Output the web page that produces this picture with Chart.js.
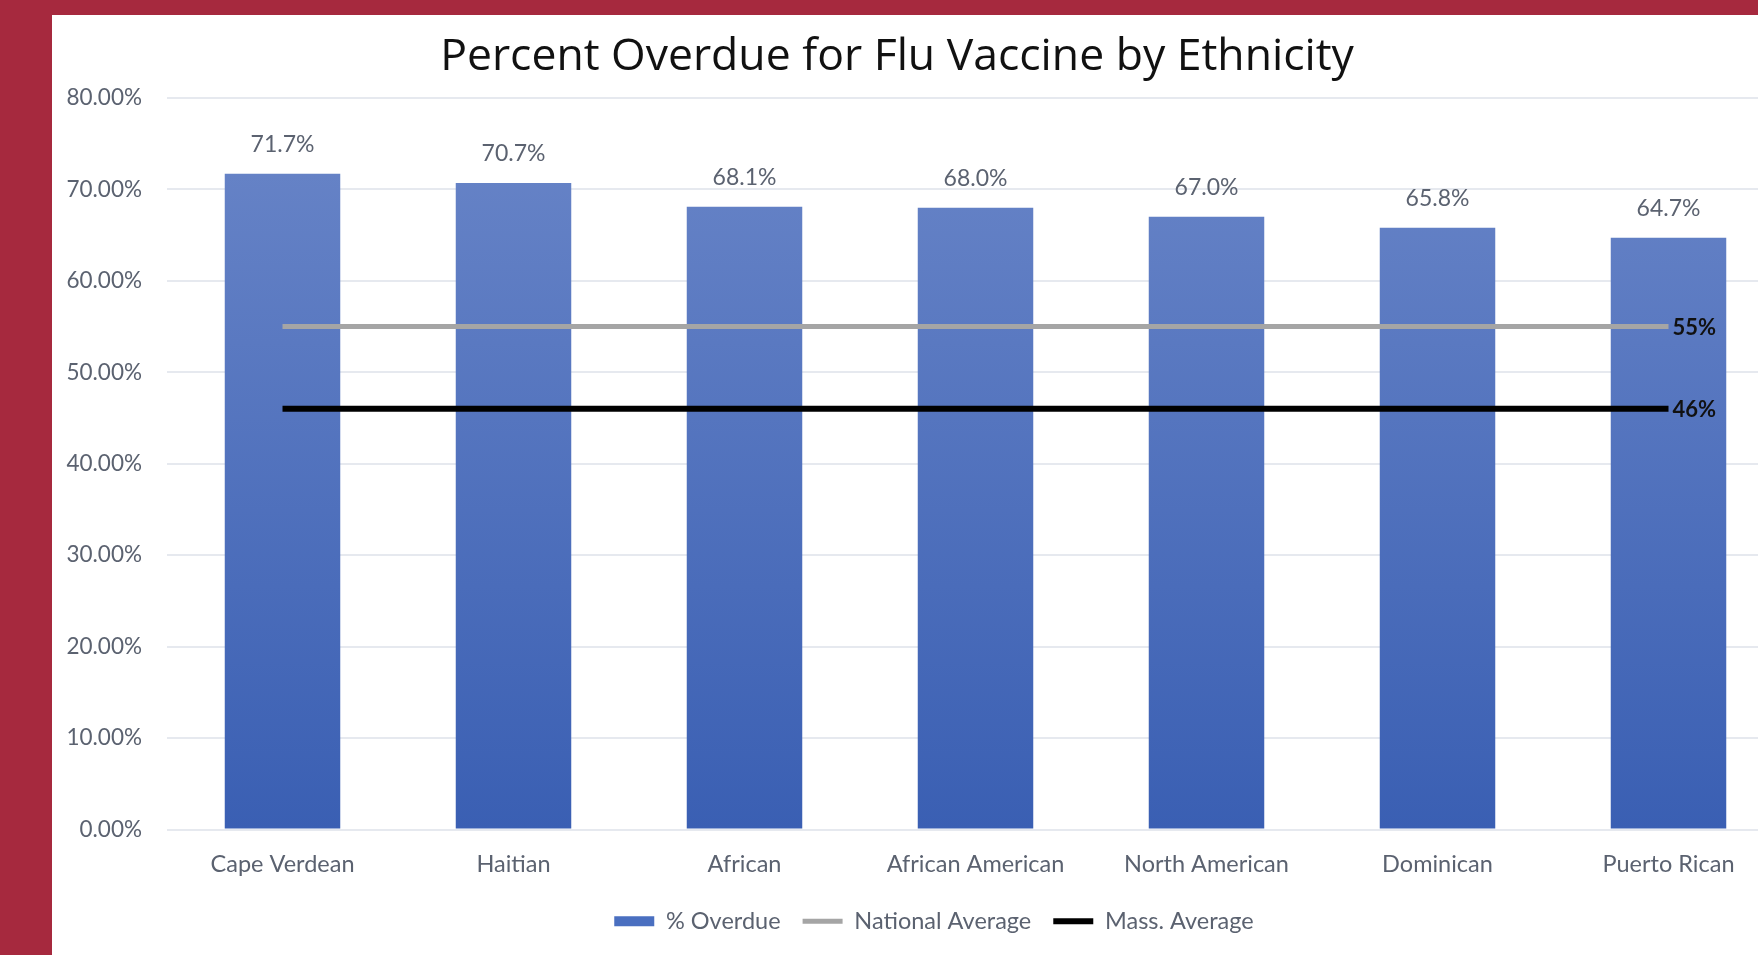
<!DOCTYPE html>
<html>
<head>
<meta charset="utf-8">
<script src="https://cdn.jsdelivr.net/npm/chart.js@4/dist/chart.umd.min.js"></script>
<style>
  html, body { margin: 0; padding: 0; overflow: hidden; width: 1758px; height: 955px; background: #a6293e; }
  #panel { position: absolute; left: 52px; top: 15px; right: 0; bottom: 0; background: #ffffff; }
  #wrap { position: absolute; left: 10px; top: 0; width: 1774px; height: 955px; }
</style>
</head>
<body>
<div id="panel"></div>
<div id="wrap"><canvas id="fluChart"></canvas></div>
<script>
// data
var ethnicities = ['Cape Verdean', 'Haitian', 'African', 'African American', 'North American', 'Dominican', 'Puerto Rican'];
var pctOverdue = [71.7, 70.7, 68.1, 68.0, 67.0, 65.8, 64.7];
var nationalAvg = [55, 55, 55, 55, 55, 55, 55];
var massAvg = [46, 46, 46, 46, 46, 46, 46];
var yTicks = [0, 10, 20, 30, 40, 50, 60, 70, 80];

var grayText = '#5b6270';

// bar fill: lighter blue at top, darker at the bottom
function barGradient(context) {
    var chart = context.chart;
    var area = chart.chartArea;
    if (!area) return '#4c6fc0';
    var g = chart.ctx.createLinearGradient(0, area.top, 0, area.bottom);
    g.addColorStop(0, '#6a86c8');
    g.addColorStop(1, '#3a5fb3');
    return g;
}

// value labels over bars and at the end of the average lines
var valueLabels = {
    id: 'valueLabels',
    afterDatasetsDraw: function (chart) {
        var ctx = chart.ctx;
        ctx.save();
        ctx.font = '23px Lato';
        ctx.textAlign = 'center';
        ctx.textBaseline = 'middle';
        ctx.fillStyle = grayText;
        chart.getDatasetMeta(0).data.forEach(function (bar, i) {
            ctx.fillText(pctOverdue[i].toFixed(1) + '%', bar.x, bar.y - 29);
        });
        ctx.textAlign = 'left';
        ctx.fillStyle = '#111111';
        ctx.font = 'bold 22px Lato';
        [1, 2].forEach(function (di) {
            var pts = chart.getDatasetMeta(di).data;
            var last = pts[pts.length - 1];
            var v = chart.data.datasets[di].data[pts.length - 1];
            ctx.fillText(v + '%', last.x + 4, last.y + 1);
        });
        ctx.restore();
    },
    afterLayout: function (chart) {
        // legend sits a bit right of the title in the original
        chart.legend.left += 37;
        chart.legend.right += 37;
    }
};

var ctx = document.getElementById('fluChart').getContext('2d');
var fluChart = new Chart(ctx, {
    type: 'bar',
    data: {
        labels: ethnicities,
        datasets: [{
            type: 'bar',
            label: '% Overdue',
            data: pctOverdue,
            backgroundColor: barGradient,
            borderWidth: 0,
            barPercentage: 0.5,
            categoryPercentage: 1.0,
            pointStyle: 'rect',
            order: 2
        }, {
            type: 'line',
            label: 'National Average',
            data: nationalAvg,
            borderColor: '#a5a5a5',
            backgroundColor: '#a5a5a5',
            borderWidth: 5,
            pointRadius: 0,
            pointStyle: 'line',
            order: 1
        }, {
            type: 'line',
            label: 'Mass. Average',
            data: massAvg,
            borderColor: '#000000',
            backgroundColor: '#000000',
            borderWidth: 6,
            pointRadius: 0,
            pointStyle: 'line',
            order: 0
        }]
    },
    options: {
        responsive: true,
        maintainAspectRatio: false,
        animation: false,
        layout: { padding: { left: 0, right: 0, top: 0, bottom: 12 } },
        scales: {
            x: {
                afterFit: function (axis) { axis.height = 58; },
                grid: { display: false, drawTicks: false },
                border: { display: false },
                ticks: { color: grayText, font: { family: 'Lato', size: 23.5 }, padding: 21 }
            },
            y: {
                min: 0,
                max: 80,
                afterFit: function (axis) { axis.width = 157; },
                afterBuildTicks: function (axis) {
                    axis.ticks = yTicks.map(function (v) { return { value: v }; });
                },
                grid: { color: '#e6e9ef', lineWidth: 2, drawTicks: false },
                border: { display: false },
                ticks: {
                    color: grayText,
                    font: { family: 'Lato', size: 22.5 },
                    padding: 25,
                    callback: function (v) { return v.toFixed(2) + '%'; }
                }
            }
        },
        plugins: {
            title: {
                display: true,
                text: 'Percent Overdue for Flu Vaccine by Ethnicity',
                color: '#111111',
                font: { family: 'Open Sans', size: 44.5, weight: 'normal', lineHeight: 1.2 },
                padding: { top: 30.5, bottom: 14 }
            },
            legend: {
                position: 'bottom',
                labels: {
                    color: grayText,
                    font: { family: 'Lato', size: 23.5 },
                    usePointStyle: true,
                    pointStyleWidth: 40,
                    boxHeight: 10,
                    padding: 22,
                    sort: function (a, b) { return a.datasetIndex - b.datasetIndex; },
                    generateLabels: function (chart) {
                        var items = Chart.defaults.plugins.legend.labels.generateLabels(chart);
                        items.forEach(function (it) {
                            if (it.datasetIndex === 0) {
                                it.fillStyle = '#4a6fc0';
                                it.strokeStyle = '#4a6fc0';
                                it.lineWidth = 0;
                            }
                        });
                        return items;
                    }
                }
            },
            tooltip: { enabled: false }
        }
    },
    plugins: [valueLabels]
});
</script>
</body>
</html>
